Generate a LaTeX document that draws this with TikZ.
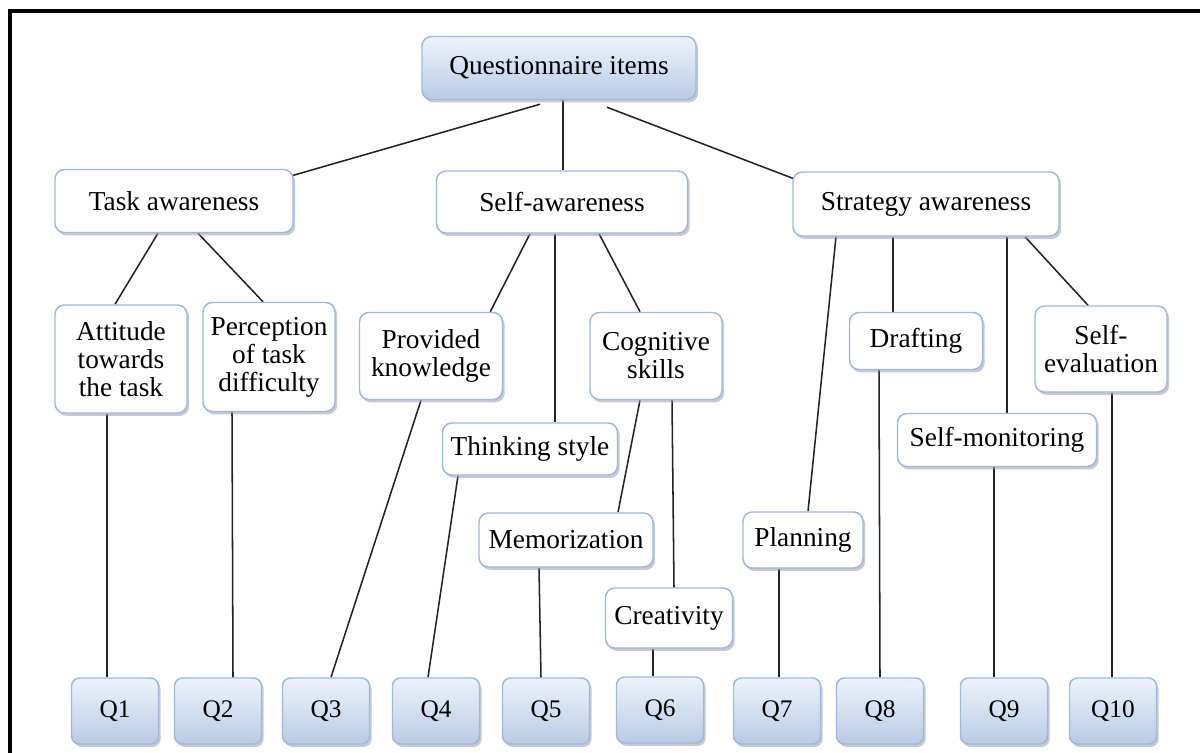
\documentclass[tikz,border=0pt]{standalone}
\usepackage{fontspec}
\setmainfont{Liberation Serif}
\usetikzlibrary{shadows,calc}
\pgfdeclarelayer{background}
\pgfsetlayers{background,main}
\definecolor{boxblue}{RGB}{158,185,220}
\definecolor{gradtop}{RGB}{238,243,251}
\definecolor{gradbot}{RGB}{184,203,229}
\definecolor{shadowc}{RGB}{150,160,178}
\definecolor{linec}{RGB}{35,35,35}
\tikzset{
  sz/.style 2 args={minimum width={#1*0.75pt}, minimum height={#2*0.75pt}},
  basebox/.style={draw=boxblue, line width=1.1pt, rounded corners=7pt, align=center,
    inner sep=0pt, text=black,
    drop shadow={shadow xshift=1.6pt, shadow yshift=-2.2pt, fill=shadowc, opacity=0.55}},
  wbox/.style={basebox, fill=white, font=\fontsize{20.5}{21}\selectfont},
  gbox/.style={basebox, top color=gradtop, bottom color=gradbot, font=\fontsize{20.5}{21}\selectfont},
  qbox/.style={basebox, top color=gradtop, bottom color=gradbot, rounded corners=6pt,
    font=\fontsize{19}{20}\selectfont, sz={87}{66}},
  conn/.style={draw=linec, line width=1.15pt}
}
\begin{document}
\begin{tikzpicture}[x=0.75pt, y=-0.75pt]
\useasboundingbox (0,0) rectangle (1200,753);

% nodes
\node[gbox, sz={274}{63}] (top) at (559,68) {Questionnaire items};

\node[wbox, sz={238}{63}] (task) at (174,201) {Task awareness};
\node[wbox, sz={251}{62}] (self) at (562,202) {Self-awareness};
\node[wbox, sz={266}{64}] (strat) at (926,204) {Strategy awareness};

\node[wbox, sz={132}{108}] (att) at (121,359) {Attitude\\towards\\the task};
\node[wbox, sz={132}{109}] (perc) at (269,357) {Perception\\of task\\difficulty};
\node[wbox, sz={143}{87}] (prov) at (431,356) {Provided\\knowledge};
\node[wbox, sz={132}{87}] (cog) at (656,356) {Cognitive\\skills};
\node[wbox, sz={175}{52}] (think) at (530,449) {Thinking style};
\node[wbox, sz={174}{54}] (mem) at (566,540) {Memorization};
\node[wbox, sz={127}{60}] (creat) at (669,618) {Creativity};
\node[wbox, sz={120}{56}] (plan) at (803,540) {Planning};
\node[wbox, sz={133}{57}] (draft) at (916,341) {Drafting};
\node[wbox, sz={132}{86}] (seval) at (1101,349) {Self-\\evaluation};
\node[wbox, sz={199}{53}] (smon) at (997,440) {Self-monitoring};

\node[qbox] (q1) at (115,711) {Q1};
\node[qbox] (q2) at (218,711) {Q2};
\node[qbox] (q3) at (326,711) {Q3};
\node[qbox] (q4) at (436,711) {Q4};
\node[qbox] (q5) at (546,711) {Q5};
\node[qbox] (q6) at (660,710) {Q6};
\node[qbox] (q7) at (777,711) {Q7};
\node[qbox] (q8) at (880,711) {Q8};
\node[qbox] (q9) at (1004,711) {Q9};
\node[qbox] (q10) at (1113,711) {Q10};

% connectors and page background
\begin{pgfonlayer}{background}
\fill[white] (0,0) rectangle (1200,753);
\draw[black, line width=2.3pt] (10,753) -- (10,11) -- (1200,11);

\draw[conn] ($(top.south)+(-19,4)$) -- ($(task.north east)+(-2,7)$);
\draw[conn] ($(top.south)+(4,0)$) -- ($(self.north)+(1,0)$);
\draw[conn] ($(top.south)+(48,7)$) -- ($(strat.north west)+(3,8)$);

\draw[conn] ($(task.south)+(-16,0)$) -- ($(att.north)+(-6,0)$);
\draw[conn] ($(task.south)+(24,0)$) -- ($(perc.north)+(-6,0)$);

\draw[conn] ($(self.south)+(-32,0)$) -- ($(prov.north east)+(-13,0)$);
\draw[conn] ($(self.south)+(-7,0)$) -- ($(think.north)+(25,0)$);
\draw[conn] ($(self.south)+(37,0)$) -- ($(cog.north)+(-16,0)$);

\draw[conn] ($(cog.south)+(-16,0)$) -- ($(mem.north)+(52,0)$);
\draw[conn] ($(cog.south)+(16,0)$) -- ($(creat.north)+(5,0)$);

\draw[conn] ($(strat.south)+(-90,0)$) -- ($(plan.north)+(5,0)$);
\draw[conn] ($(strat.south)+(-33,0)$) -- ($(draft.north)+(-23,0)$);
\draw[conn] ($(strat.south)+(81,0)$) -- ($(smon.north)+(10,0)$);
\draw[conn] ($(strat.south)+(99,0)$) -- ($(seval.north)+(-13,0)$);

\draw[conn] ($(att.south)+(-14,0)$) -- ($(q1.north)+(-8,0)$);
\draw[conn] ($(perc.south)+(-37,0)$) -- ($(q2.north)+(15,0)$);
\draw[conn] ($(prov.south)+(-10,0)$) -- ($(q3.north)+(5,0)$);
\draw[conn] ($(think.south)+(-72,0)$) -- ($(q4.north)+(-8,0)$);
\draw[conn] ($(mem.south)+(-27,0)$) -- ($(q5.north)+(-5,0)$);
\draw[conn] ($(creat.south)+(-16,0)$) -- ($(q6.north)+(-7,0)$);
\draw[conn] ($(plan.south)+(-24,0)$) -- ($(q7.north)+(2,0)$);
\draw[conn] ($(draft.south)+(-37,0)$) -- ($(q8.north)+(0,0)$);
\draw[conn] ($(smon.south)+(-3,0)$) -- ($(q9.north)+(-10,0)$);
\draw[conn] ($(seval.south)+(11,0)$) -- ($(q10.north)+(-1,0)$);
\end{pgfonlayer}
\end{tikzpicture}
\end{document}
